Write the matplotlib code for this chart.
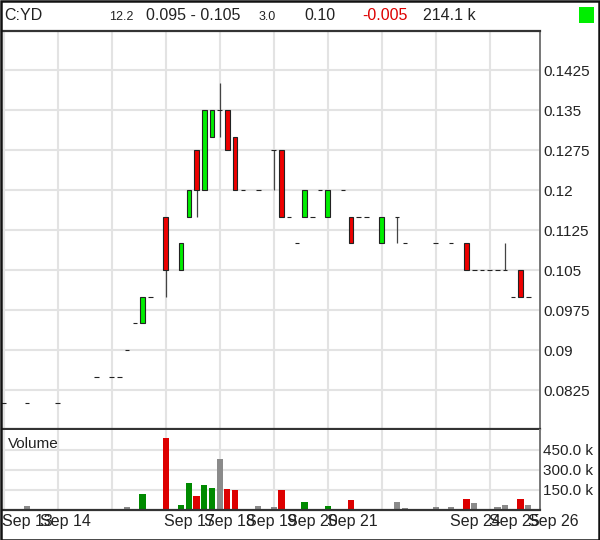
import numpy as np
import matplotlib
matplotlib.use("Agg")
import matplotlib.pyplot as plt
from matplotlib.patches import Rectangle

plt.rcParams['font.family'] = ['Liberation Sans', 'DejaVu Sans']

# ---------------- data ----------------
bar_idx = [0, 3, 7, 12, 14, 15, 16, 17, 18, 19, 21, 23, 24, 25, 26, 27, 28, 29, 30, 31,
           33, 35, 36, 37, 38, 39, 40, 41, 42, 44, 45, 46, 47, 49, 51, 52, 56, 58, 60, 61,
           62, 63, 64, 65, 66, 67, 68]
opens  = [.08, .08, .08, .085, .085, .085, .09, .095, .095, .1, .115, .105, .115, .1275, .12, .13, .135, .135, .13, .12,
          .12, .1275, .1275, .115, .11, .115, .115, .12, .115, .12, .115, .115, .115, .11, .115, .11, .11, .11, .11, .105,
          .105, .105, .105, .105, .1, .105, .1]
highs  = [.08, .08, .08, .085, .085, .085, .09, .095, .1, .1, .115, .11, .12, .1275, .135, .135, .14, .135, .13, .12,
          .12, .1275, .1275, .115, .11, .12, .115, .12, .12, .12, .115, .115, .115, .115, .115, .11, .11, .11, .11, .105,
          .105, .105, .105, .11, .1, .105, .1]
lows   = [.08, .08, .08, .085, .085, .085, .09, .095, .095, .1, .1, .105, .115, .115, .12, .13, .13, .1275, .12, .12,
          .12, .12, .115, .115, .11, .115, .115, .12, .115, .12, .11, .115, .115, .11, .11, .11, .11, .11, .105, .105,
          .105, .105, .105, .105, .1, .1, .1]
closes = [.08, .08, .08, .085, .085, .085, .09, .095, .1, .1, .105, .11, .12, .12, .135, .135, .135, .1275, .12, .12,
          .12, .1275, .115, .115, .11, .12, .115, .12, .12, .12, .11, .115, .115, .115, .115, .11, .11, .11, .105, .105,
          .105, .105, .105, .105, .1, .1, .1]
volumes = [7, 27, 5, 4, 5, 5, 22, 3, 120, 6, 540, 35, 202, 105, 188, 165, 383, 158, 150, 5,
           30, 20, 152, 8, 3, 62, 3, 5, 27, 10, 75, 8, 3, 10, 60, 15, 22, 20, 82, 52,
           4, 3, 25, 37, 3, 82, 37]  # thousands

n_slots = 69
date_labels = ['Sep 13', 'Sep 14', 'Sep 17', 'Sep 18', 'Sep 19', 'Sep 20', 'Sep 21', 'Sep 24', 'Sep 25', 'Sep 26']
date_pos = [-0.2, 4.7, 20.8, 26.0, 31.4, 36.7, 41.9, 57.9, 62.9, 68.0]
price_ticks = [0.0825, 0.09, 0.0975, 0.105, 0.1125, 0.12, 0.1275, 0.135, 0.1425]
vol_ticks = [150, 300, 450]

header_name = 'C:YD'
header_small1 = '12.2'
header_range = '0.095 - 0.105'
header_small2 = '3.0'
header_last = '0.10'
header_change = '-0.005'
header_vol = '214.1 k'

# ---------------- figure ----------------
W, H = 600, 540
fig = plt.figure(figsize=(W / 100, H / 100), dpi=100)

def rect(x, y_top, w, h):
    return [x / W, 1 - (y_top + h) / H, w / W, h / H]

ax = fig.add_axes(rect(2, 31, 538, 398))
axv = fig.add_axes(rect(2, 430, 538, 80))

x = np.array(bar_idx, dtype=float)
o = np.array(opens); hi = np.array(highs); lo = np.array(lows); c = np.array(closes)
v = np.array(volumes) * 1000.0

grid_c = '#e3e3e3'
xlim = (-0.22, 69.52)

# main price panel
for a in (ax, axv):
    for gx in np.arange(0, n_slots, 7):
        a.axvline(gx, color=grid_c, lw=1.5, zorder=0)
for py in price_ticks:
    ax.axhline(py, color=grid_c, lw=1.5, zorder=0)

ax.vlines(x, lo, hi, color='#444444', lw=0.9, zorder=2)
body_col = np.where(c > o, '#00ee00', np.where(c < o, '#ee0000', '#222222'))
ax.bar(x, c - o, bottom=o, width=0.58, color=body_col, edgecolor='#222222',
       linewidth=0.8, zorder=3)

ax.set_xlim(*xlim)
ax.set_ylim(0.075188, 0.149813)
ax.set_xticks([])
ax.yaxis.tick_right()
ax.set_yticks(price_ticks)
ax.set_yticklabels([('%.4f' % t).rstrip('0') for t in price_ticks])
ax.tick_params(axis='y', length=0, pad=2.5, labelsize=11, labelcolor='#222222')
ax.spines['left'].set_visible(False)
ax.spines['top'].set_color('#333333'); ax.spines['top'].set_linewidth(1.6)
ax.spines['bottom'].set_color('#333333'); ax.spines['bottom'].set_linewidth(1.6)
ax.spines['right'].set_color('#777777'); ax.spines['right'].set_linewidth(1.4)

# volume panel
for vy in vol_ticks:
    axv.axhline(vy * 1000, color=grid_c, lw=1.5, zorder=0)
vol_col = np.where(c > o, '#008a00', np.where(c < o, '#dd0000', '#8a8a8a'))
axv.bar(x, v, width=0.8, color=vol_col, zorder=2)
axv.set_xlim(*xlim)
axv.set_ylim(0, 598000)
axv.yaxis.tick_right()
axv.set_yticks([t * 1000 for t in vol_ticks])
axv.set_yticklabels(['%.1f k' % t for t in vol_ticks])
axv.tick_params(axis='y', length=0, pad=2.5, labelsize=11, labelcolor='#222222')
axv.set_xticks(date_pos)
axv.set_xticklabels(date_labels, ha='left')
axv.tick_params(axis='x', length=0, pad=3, labelsize=11.5, labelcolor='#222222')
axv.spines['left'].set_visible(False)
axv.spines['top'].set_visible(False)
axv.spines['bottom'].set_color('#333333'); axv.spines['bottom'].set_linewidth(1.6)
axv.spines['right'].set_color('#777777'); axv.spines['right'].set_linewidth(1.4)
axv.text(6 / 538, (510 - 444.5) / 80, 'Volume', transform=axv.transAxes,
         fontsize=11, va='center', ha='left', color='#222222')

# header
def ty(y):
    return 1 - y / H
fig.text(4 / W, ty(16), header_name, fontsize=11.5, va='center', color='#222222')
fig.text(109 / W, ty(17), header_small1, fontsize=9, va='center', color='#222222')
fig.text(146 / W, ty(16), header_range, fontsize=11.5, va='center', color='#222222')
fig.text(259 / W, ty(17), header_small2, fontsize=9, va='center', color='#222222')
fig.text(304 / W, ty(16), header_last, fontsize=11.5, va='center', color='#222222')
fig.text(362 / W, ty(16), header_change, fontsize=11.5, va='center', color='#dd0000')
fig.text(423 / W, ty(16), header_vol, fontsize=11.5, va='center', color='#222222')
fig.patches.append(Rectangle((579 / W, ty(23)), 15 / W, 16 / H, transform=fig.transFigure,
                             facecolor='#00ee00', edgecolor='none'))

# outer border
fig.patches.append(Rectangle((0.5 / W, 0.5 / H), (W - 1.5) / W, (H - 1.5) / H,
                             transform=fig.transFigure, fill=False,
                             edgecolor='#111111', linewidth=1.8))

fig.savefig('out.png', dpi=100)
